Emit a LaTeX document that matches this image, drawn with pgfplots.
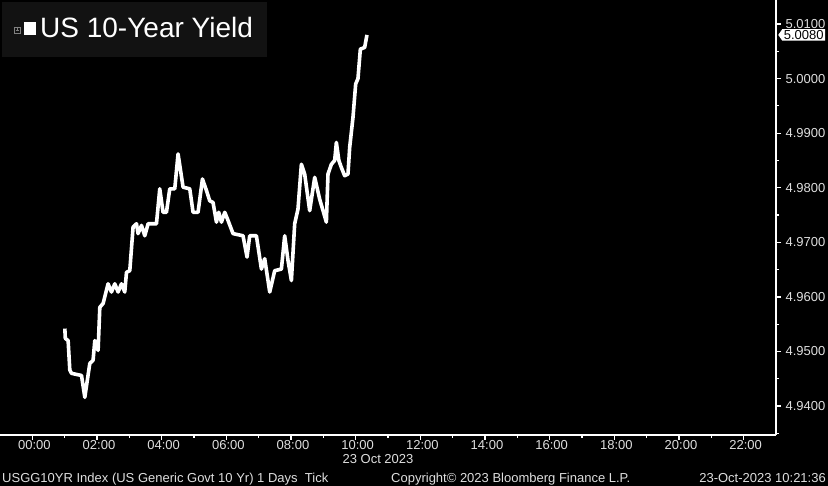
\documentclass[border=0pt]{standalone}
\usepackage{fontspec}
\setmainfont{Liberation Sans}
\usepackage{pgfplots}
\pgfplotsset{compat=1.18}
\usetikzlibrary{shapes.symbols}
\definecolor{lbl}{RGB}{222,222,222}
\definecolor{boxbg}{RGB}{18,18,18}
\begin{document}
\begin{tikzpicture}
\fill[black] (0,0) rectangle (828bp,486bp);
\useasboundingbox (0,0) rectangle (828bp,486bp);
\begin{axis}[
  at={(0bp,51bp)}, anchor=south west,
  width=776bp, height=435bp, scale only axis,
  xmin=-1, xmax=23, ymin=4.9347, ymax=5.0144,
  axis x line=bottom, axis y line=right,
  axis line style={white, line width=1.2bp, -},
  xtick={0,2,4,6,8,10,12,14,16,18,20,22},
  xticklabels={00:00,02:00,04:00,06:00,08:00,10:00,12:00,14:00,16:00,18:00,20:00,22:00},
  minor xtick={1,3,5,7,9,11,13,15,17,19,21},
  ytick={4.94,4.95,4.96,4.97,4.98,4.99,5.00,5.01},
  minor ytick={4.935,4.945,4.955,4.965,4.975,4.985,4.995,5.005},
  yticklabel style={/pgf/number format/fixed,/pgf/number format/fixed zerofill,/pgf/number format/precision=4},
  /pgf/number format/assume math mode=true,
  scaled y ticks=false,
  tick align=outside,
  major tick length=5bp, minor tick length=3bp,
  tick style={white, line width=1.2bp},
  ticklabel style={text=lbl, font=\fontsize{13bp}{15bp}\selectfont},
  xticklabel style={yshift=3bp, xshift=2bp},
  yticklabel style={xshift=1bp},
  axis background/.style={fill=black},
  clip=false,
]
\addplot[white, line width=3.6bp, line join=round] coordinates {
(1.005,4.9542)(1.020,4.9524)(1.107,4.9520)(1.159,4.9466)(1.212,4.9460)(1.521,4.9456)
(1.623,4.9416)(1.777,4.9478)(1.879,4.9484)(1.932,4.9520)(2.034,4.9502)(2.087,4.9581)
(2.189,4.9588)(2.343,4.9624)(2.448,4.9609)(2.550,4.9624)(2.652,4.9609)(2.757,4.9624)
(2.859,4.9609)(2.912,4.9645)(3.014,4.9648)(3.116,4.9728)(3.221,4.9734)(3.270,4.9716)
(3.376,4.9731)(3.478,4.9712)(3.580,4.9734)(3.839,4.9734)(3.941,4.9798)(4.043,4.9755)
(4.148,4.9755)(4.250,4.9798)(4.405,4.9798)(4.507,4.9862)(4.662,4.9801)(4.869,4.9798)
(4.971,4.9755)(5.125,4.9755)(5.261,4.9816)(5.385,4.9795)(5.487,4.9776)(5.589,4.9773)
(5.694,4.9737)(5.765,4.9755)(5.849,4.9737)(5.951,4.9755)(6.053,4.9740)(6.207,4.9716)
(6.516,4.9712)(6.640,4.9673)(6.723,4.9712)(6.930,4.9712)(7.085,4.9651)(7.187,4.9670)
(7.342,4.9609)(7.496,4.9648)(7.703,4.9651)(7.805,4.9712)(7.907,4.9667)(8.012,4.9630)
(8.114,4.9734)(8.216,4.9761)(8.321,4.9843)(8.423,4.9825)(8.578,4.9758)(8.733,4.9819)
(8.887,4.9779)(9.094,4.9737)(9.144,4.9825)(9.249,4.9843)(9.351,4.9850)(9.403,4.9883)
(9.480,4.9850)(9.558,4.9837)(9.660,4.9822)(9.762,4.9825)(9.815,4.9874)(9.917,4.9929)
(10.000,4.9990)(10.071,5.0000)(10.145,5.0054)(10.278,5.0057)(10.349,5.0080)
};
\coordinate (lastv) at (axis cs:23,5.0080);
\end{axis}
% last value marker
\node[signal, signal to=west, signal pointer angle=110, fill=white, text=black,
  inner xsep=1.5bp, inner ysep=1.2bp, anchor=west,
  font=\fontsize{13bp}{15bp}\selectfont] at ([xshift=2bp]lastv) {5.0080};
% title box
\fill[boxbg] (2bp,429bp) rectangle (267bp,484bp);
\draw[gray, line width=0.6bp] (14bp,453bp) rectangle (20bp,459bp);
\draw[gray, line width=0.5bp] (15.5bp,456bp) -- (18.5bp,456bp) (17bp,454.5bp) -- (17bp,457.5bp);
\fill[white] (24bp,451bp) rectangle (36bp,464bp);
\node[anchor=base west, inner sep=0pt, text=white, font=\fontsize{28bp}{32bp}\selectfont] at (40bp,448bp) {US 10-Year Yield};
% date under axis
\node[anchor=base, inner sep=0pt, text=lbl, font=\fontsize{13bp}{15bp}\selectfont] at (378bp,23bp) {23 Oct 2023};
% footer
\node[anchor=base west, inner sep=0pt, text=lbl, font=\fontsize{13bp}{15bp}\selectfont] at (2bp,4bp) {USGG10YR Index (US Generic Govt 10 Yr) 1 Days\ \ Tick};
\node[anchor=base west, inner sep=0pt, text=lbl, font=\fontsize{13bp}{15bp}\selectfont] at (391bp,4bp) {Copyright© 2023 Bloomberg Finance L.P.};
\node[anchor=base east, inner sep=0pt, text=lbl, font=\fontsize{13bp}{15bp}\selectfont] at (826bp,4bp) {23-Oct-2023 10:21:36};
\end{tikzpicture}
\end{document}
